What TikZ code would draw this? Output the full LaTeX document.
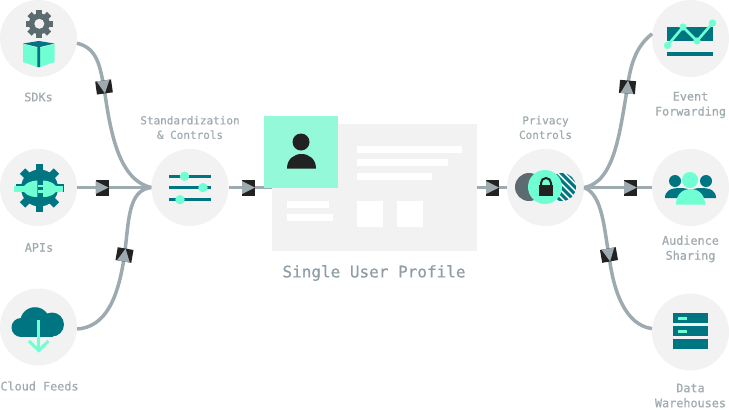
\documentclass[tikz,border=0pt]{standalone}
\usepackage{fontspec}
\setmonofont[FakeBold=0.7]{DejaVu Sans Mono}
\definecolor{discgray}{HTML}{F2F2F2}
\definecolor{teal}{HTML}{007582}
\definecolor{mint}{HTML}{6FFFD2}
\definecolor{avatar}{HTML}{94F9D9}
\definecolor{flowgray}{HTML}{9DAAB0}
\definecolor{labelgray}{HTML}{A0ABB0}
\definecolor{titlegray}{HTML}{8F9DA5}
\definecolor{inkdark}{HTML}{222222}
\definecolor{geargray}{HTML}{5C6B70}
\tikzset{
  disc/.style={circle,fill=discgray,minimum size=77pt,inner sep=0pt},
  flow/.style={draw=flowgray,line width=3.5pt},
  outerlabel/.style={font=\ttfamily\fontsize{11.8}{15}\selectfont,text=labelgray,align=center,inner sep=0pt},
  innerlabel/.style={font=\ttfamily\fontsize{11}{14.5}\selectfont,text=labelgray,align=center,inner sep=0pt},
  whitebar/.style={fill=white},
  flowmarker/.pic={
    \fill[inkdark] (-6.5,-8) rectangle (6.5,8);
    \fill[flowgray] (-6.5,-6.5) -- (6.5,0) -- (-6.5,6.5) -- cycle;
  }
}
\begin{document}
\begin{tikzpicture}[x=1pt,y=-1pt]
\path[use as bounding box] (0,0) rectangle (729,410);
% discs
\node[disc] (sdks) at (38.5,38.5) {};
\node[disc] (apis) at (38.5,187.5) {};
\node[disc] (cloud) at (38.5,327) {};
\node[disc] (std) at (190,187.5) {};
\node[disc] (privacy) at (545.5,187.5) {};
\node[disc] (event) at (690.5,38.5) {};
\node[disc] (audience) at (690.5,187.5) {};
\node[disc] (data) at (690.5,332) {};
% profile card
\node[fill=discgray,minimum width=205pt,minimum height=127pt,inner sep=0pt] (card) at (374.5,187.5) {};
% marker positions
\coordinate (m1) at (104,87);
\coordinate (m2) at (102,187.5);
\coordinate (m3) at (124.5,255);
\coordinate (m4) at (248.5,187.5);
\coordinate (m5) at (492.5,187.5);
\coordinate (m6) at (627.5,87);
\coordinate (m7) at (630.5,187.5);
\coordinate (m8) at (609,255);
% connectors
\draw[flow] (sdks.-7) .. controls (98,48) and (100,68) .. (m1) .. controls (110,130) and (118,180) .. (std.west);
\draw[flow] (apis.east) -- (std.west);
\draw[flow] (cloud.-3) .. controls (105,327) and (118,300) .. (m3) .. controls (129,220) and (128,190) .. (std.west);
\draw[flow] (std.east) -- (card.west);
\draw[flow] (card.east) -- (privacy.west);
\draw[flow] (privacy.east) .. controls (615,182) and (620,130) .. (m6) .. controls (631,60) and (638,45) .. (event.173);
\draw[flow] (privacy.east) -- (audience.west);
\draw[flow] (privacy.east) .. controls (603,195) and (604,230) .. (m8) .. controls (613,290) and (625,325) .. (data.175);
% markers
\pic[rotate=-82] at (m1) {flowmarker};
\pic at (m2) {flowmarker};
\pic[rotate=80] at (m3) {flowmarker};
\pic at (m4) {flowmarker};
\pic at (m5) {flowmarker};
\pic[rotate=85] at (m6) {flowmarker};
\pic at (m7) {flowmarker};
\pic[rotate=-80] at (m8) {flowmarker};
% card contents
\fill[whitebar] (357,146) rectangle (462,153);
\fill[whitebar] (357,159) rectangle (448,166);
\fill[whitebar] (357,173) rectangle (432,179.5);
\fill[whitebar] (287,201) rectangle (329,207.5);
\fill[whitebar] (287,214) rectangle (333,220.5);
\fill[whitebar] (357,201) rectangle (383,226.5);
\fill[whitebar] (397,201) rectangle (423,226.5);
\node[fill=avatar,minimum width=74pt,minimum height=72pt,inner sep=0pt] (photo) at (301,152) {};
\fill[inkdark] (301,142) circle (8.5);
\fill[inkdark] (287,168.5) .. controls (287,159) and (294,154) .. (301.5,154) .. controls (309,154) and (316,159) .. (316,168.5) -- cycle;
% SDK icon
\begin{scope}[geargray]
\foreach \a in {0,45,...,315} \fill[rotate around={\a:(39.3,23.8)}] (36.3,10) rectangle (42.3,16);
\fill (39.3,23.8) circle (10.5);
\end{scope}
\fill[discgray] (39.3,23.8) circle (5);
\fill[mint] (23,44) -- (23,62) -- (38.7,67.5) -- (54.5,62) -- (54.5,44) -- (38.7,48) -- cycle;
\fill[teal] (23,43.5) -- (38.7,41) -- (54.5,43.5) -- (40,47) -- (40,67) -- (37.4,67) -- (37.4,47) -- cycle;
% API icon
\begin{scope}[teal]
\foreach \a in {0,45,...,315} \fill[rotate around={\a:(39.5,188)}] (35.7,164) rectangle (43.3,172);
\fill (39.5,188) circle (18.5);
\end{scope}
\fill[mint] (14,186) rectangle (24,192);
\fill[mint] (56,186) rectangle (63,192);
\fill[mint] (37.3,180.5) -- (37.3,197) .. controls (29,197) and (24,194) .. (23,189) .. controls (24,184) and (29,181) .. (37.3,180.5) -- cycle;
\fill[mint] (38,184.5) rectangle (43.5,187);
\fill[mint] (38,190) rectangle (43.5,192.5);
\fill[mint] (43,180.5) -- (43,197) .. controls (51,197) and (56,194) .. (57,189) .. controls (56,184) and (51,181) .. (43,180.5) -- cycle;
% cloud icon
\begin{scope}[teal]
\fill (35,322) circle (14.8);
\fill (52,324.5) circle (12);
\fill (21,327.5) circle (9.5);
\fill (21,325) rectangle (53,337);
\end{scope}
\draw[mint,line width=3pt] (38.7,320) -- (38.7,349);
\draw[mint,line width=3pt] (29,341) -- (38.7,350.5) -- (48.5,341);
% sliders
\foreach \yy/\kx in {176.3/184.5,187.7/203,199.7/180}{
  \fill[teal] (169,\yy-1.5) rectangle (211,\yy+1.5);
  \fill[mint] (\kx,\yy) circle (4.7);
}
% privacy icon
\fill[geargray] (529,187) circle (14);
\begin{scope}
\clip (562,187) circle (14);
\foreach \d in {-36,-29,...,36}
  \draw[teal,line width=3pt] (562+\d-20,167) -- (562+\d+20,207);
\end{scope}
\fill[mint] (545,187) circle (17);
\draw[inkdark,line width=2pt] (541,186) -- (541,183) arc[start angle=180,end angle=360,radius=5] -- (551,186);
\fill[inkdark] (539,185) rectangle (553,196);
% event icon
\fill[teal] (667,27) rectangle (713,41);
\fill[teal] (667,52) rectangle (713,55.5);
\draw[mint,line width=2.6pt] (667.5,45.5) -- (683,27) -- (697,41) -- (712.5,23);
\foreach \p in {(667.5,45.5),(683,27),(697,41),(712.5,23)} \fill[mint] \p circle (3.6);
% audience icon
\fill[teal] (675,181) circle (6);
\fill[teal] (706,181) circle (6);
\fill[teal] (665,198) .. controls (665,191) and (670,188) .. (680,188) .. controls (690,188) and (695,192) .. (695,198) -- cycle;
\fill[teal] (686,198) .. controls (686,192) and (692,188) .. (701,188) .. controls (711,188) and (716,191) .. (716,198) -- cycle;
\fill[mint] (690,180) circle (8);
\fill[mint] (676,204.5) .. controls (676,195) and (682,189) .. (690.5,189) .. controls (699,189) and (705,195) .. (705,204.5) -- cycle;
% data icon
\fill[teal] (673,313) rectangle (708,323);
\fill[teal] (673,326) rectangle (708,336);
\fill[teal] (673,339) rectangle (708,349);
\fill[mint] (678,316.5) rectangle (687,319.5);
\fill[mint] (678,329.5) rectangle (687,332.5);
% labels
\node[outerlabel] (l1) at (38.5,97) {SDKs};
\node[outerlabel] (l2) at (39,247.5) {APIs};
\node[outerlabel] (l3) at (39.5,386) {Cloud Feeds};
\node[innerlabel] (l4) at (190,127.5) {Standardization\\\& Controls};
\node[font=\ttfamily\fontsize{16}{19}\selectfont,text=titlegray,inner sep=0pt] (l5) at (374,273) {Single User Profile};
\node[innerlabel] (l6) at (545.5,127.5) {Privacy\\Controls};
\node[outerlabel] (l7) at (690.5,105) {Event\\Forwarding};
\node[outerlabel] (l8) at (690.5,249) {Audience\\Sharing};
\node[outerlabel] (l9) at (690.5,395.5) {Data\\Warehouses};
\end{tikzpicture}
\end{document}
